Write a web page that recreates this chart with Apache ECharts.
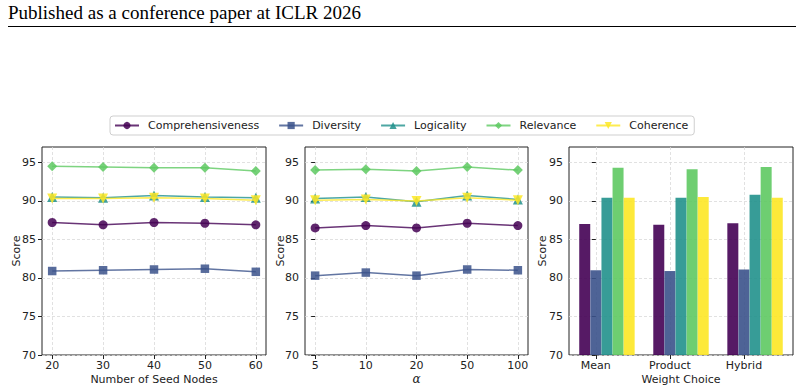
<!DOCTYPE html>
<html>
<head>
<meta charset="utf-8">
<script src="https://cdn.jsdelivr.net/npm/echarts@6/dist/echarts.min.js"></script>
<style>
  html, body { margin: 0; padding: 0; background: #fff; }
  #chart { width: 804px; height: 390px; }
</style>
</head>
<body>
<div id="chart"></div>
<script>
"use strict";

/* 数据: 近似值 */
const METRICS = ["Comprehensiveness", "Diversity", "Logicality", "Relevance", "Coherence"];
const SEED_NODES = [20, 30, 40, 50, 60];
const ALPHA_LABELS = ["5", "10", "20", "50", "100"];
const WEIGHT_LABELS = ["Mean", "Product", "Hybrid"];
const Y_TICKS = [70, 75, 80, 85, 90, 95];

// 每个指标一行, 对应 SEED_NODES
const SEED_COMPREHENSIVENESS = [87.2, 86.9, 87.2, 87.1, 86.9];
const SEED_DIVERSITY = [80.9, 81.0, 81.1, 81.2, 80.8];
const SEED_LOGICALITY = [90.5, 90.4, 90.7, 90.5, 90.4];
const SEED_RELEVANCE = [94.5, 94.4, 94.3, 94.3, 93.9];
const SEED_COHERENCE = [90.3, 90.3, 90.4, 90.3, 90.1];

// 对应 ALPHA_LABELS
const ALPHA_COMPREHENSIVENESS = [86.5, 86.8, 86.5, 87.1, 86.8];
const ALPHA_DIVERSITY = [80.3, 80.7, 80.3, 81.1, 81.0];
const ALPHA_LOGICALITY = [90.3, 90.5, 89.9, 90.7, 90.2];
const ALPHA_RELEVANCE = [94.0, 94.1, 93.9, 94.4, 94.0];
const ALPHA_COHERENCE = [90.1, 90.2, 90.0, 90.4, 90.1];

// 对应 WEIGHT_LABELS
const WEIGHT_COMPREHENSIVENESS = [87.0, 86.9, 87.1];
const WEIGHT_DIVERSITY = [81.0, 80.9, 81.1];
const WEIGHT_LOGICALITY = [90.4, 90.4, 90.8];
const WEIGHT_RELEVANCE = [94.3, 94.1, 94.4];
const WEIGHT_COHERENCE = [90.4, 90.5, 90.4];

const SEED_ROWS = [SEED_COMPREHENSIVENESS, SEED_DIVERSITY, SEED_LOGICALITY, SEED_RELEVANCE, SEED_COHERENCE];
const ALPHA_ROWS = [ALPHA_COMPREHENSIVENESS, ALPHA_DIVERSITY, ALPHA_LOGICALITY, ALPHA_RELEVANCE, ALPHA_COHERENCE];
const WEIGHT_ROWS = [WEIGHT_COMPREHENSIVENESS, WEIGHT_DIVERSITY, WEIGHT_LOGICALITY, WEIGHT_RELEVANCE, WEIGHT_COHERENCE];

/* 样式 */
const COLORS = ["#440154", "#3b528b", "#21918c", "#5ec962", "#fde725"];
const TRI_DOWN = "path://M0,0 L10,0 L5,9 Z";
const SYMBOLS = ["circle", "rect", "triangle", "diamond", TRI_DOWN];
const SYMBOL_SIZE = [9, 8.5, 10, 10, 10];
const FONT = "DejaVu Sans";
const INK = "#222";
const GRIDLINE = "#d9d9d9";
const BAR_W = 0.15;

const GRID_POS = [
  { left: 42, top: 147, width: 224, height: 208 },
  { left: 305, top: 147, width: 223, height: 208 },
  { left: 569, top: 147, width: 224, height: 208 }
];
const grids = GRID_POS.map(g => Object.assign({}, g,
  { show: true, borderColor: INK, borderWidth: 1, backgroundColor: "transparent" }));

const tickStyle = values => ({
  axisLine: { show: false },
  axisTick: { show: true, inside: false, length: 4, customValues: values, lineStyle: { color: INK, width: 1 } },
  splitLine: { show: true, lineStyle: { color: GRIDLINE, type: [3, 2], width: 0.8 } }
});

function xAxisFor(idx, min, max, values, formatter) {
  const base = tickStyle(values);
  return Object.assign(base, {
    type: "value", gridIndex: idx, min, max,
    axisLabel: { customValues: values, color: INK, fontFamily: FONT, fontSize: 11, margin: 5,
                 formatter: formatter || (v => String(v)) }
  });
}
function yAxisFor(idx) {
  const base = tickStyle(Y_TICKS);
  return Object.assign(base, {
    type: "value", gridIndex: idx, min: 70, max: 97,
    axisLabel: { customValues: Y_TICKS, color: INK, fontFamily: FONT, fontSize: 11, margin: 6 }
  });
}

const xAxes = [
  xAxisFor(0, 18, 62, SEED_NODES),
  xAxisFor(1, -0.2, 4.2, ALPHA_LABELS.map((_, i) => i), v => ALPHA_LABELS[Math.round(v)]),
  xAxisFor(2, -0.3625, 2.6625, WEIGHT_LABELS.map((_, i) => i), v => WEIGHT_LABELS[Math.round(v)])
];
const yAxes = [yAxisFor(0), yAxisFor(1), yAxisFor(2)];

// 轴标题: 用 graphic 文本精确定位
const X_TITLES = ["Number of Seed Nodes", "α", "Weight Choice"];
const Y_TITLE_OFFSET = [26, 25, 27];
const axisTitles = [];
GRID_POS.forEach((g, i) => {
  axisTitles.push({
    type: "text", x: g.left + g.width / 2, y: g.top + g.height + 24,
    style: { text: X_TITLES[i], fill: INK, align: "center", verticalAlign: "middle",
             font: i === 1 ? "italic 12px 'DejaVu Serif'" : `11px '${FONT}'` }
  });
  axisTitles.push({
    type: "text", x: g.left - Y_TITLE_OFFSET[i], y: g.top + g.height / 2, rotation: Math.PI / 2,
    style: { text: "Score", fill: INK, align: "center", verticalAlign: "middle", font: `11px '${FONT}'` }
  });
});

function lineSeries(axis, rows, xs) {
  return METRICS.map((name, k) => ({
    name, type: "line", xAxisIndex: axis, yAxisIndex: axis,
    data: rows[k].map((v, i) => [xs[i], v]),
    symbol: SYMBOLS[k], symbolSize: SYMBOL_SIZE[k],
    lineStyle: { color: COLORS[k], width: 1.5, opacity: 0.8 },
    itemStyle: { color: COLORS[k], opacity: 0.85 },
    emphasis: { disabled: true }, animation: false, z: 3 + k
  }));
}

const series = [
  ...lineSeries(0, SEED_ROWS, SEED_NODES),
  ...lineSeries(1, ALPHA_ROWS, ALPHA_LABELS.map((_, i) => i)),
  ...METRICS.map((name, k) => ({
    name, type: "bar", xAxisIndex: 2, yAxisIndex: 2,
    data: WEIGHT_ROWS[k].map((v, i) => [i + (k - 1) * BAR_W, v]),
    barWidth: 11, barGap: "-100%",
    itemStyle: { color: COLORS[k], opacity: 0.9 },
    emphasis: { disabled: true }, animation: false
  }))
];

const chart = echarts.init(document.getElementById("chart"), null, { renderer: "svg" });
chart.setOption({
  animation: false,
  backgroundColor: "#fff",
  textStyle: { fontFamily: FONT },
  graphic: [
    { type: "text", left: 8, top: 3,
      style: { text: "Published as a conference paper at ICLR 2026", fill: "#000",
               font: "19px 'Liberation Serif', 'Times New Roman', serif" } },
    { type: "line", shape: { x1: 8, y1: 26.5, x2: 796, y2: 26.5 },
      style: { stroke: "#000", lineWidth: 1 } },
    ...axisTitles
  ],
  legend: {
    data: METRICS, left: 110, top: 116,
    padding: [4, 6, 4, 4], itemWidth: 24, itemHeight: 9, itemGap: 19,
    borderColor: "#cfcfcf", borderWidth: 1, borderRadius: 3,
    textStyle: { color: INK, fontFamily: FONT, fontSize: 11, padding: [0, 0, 0, 4] },
    selectedMode: false
  },
  grid: grids,
  xAxis: xAxes,
  yAxis: yAxes,
  series
});
</script>
</body>
</html>
